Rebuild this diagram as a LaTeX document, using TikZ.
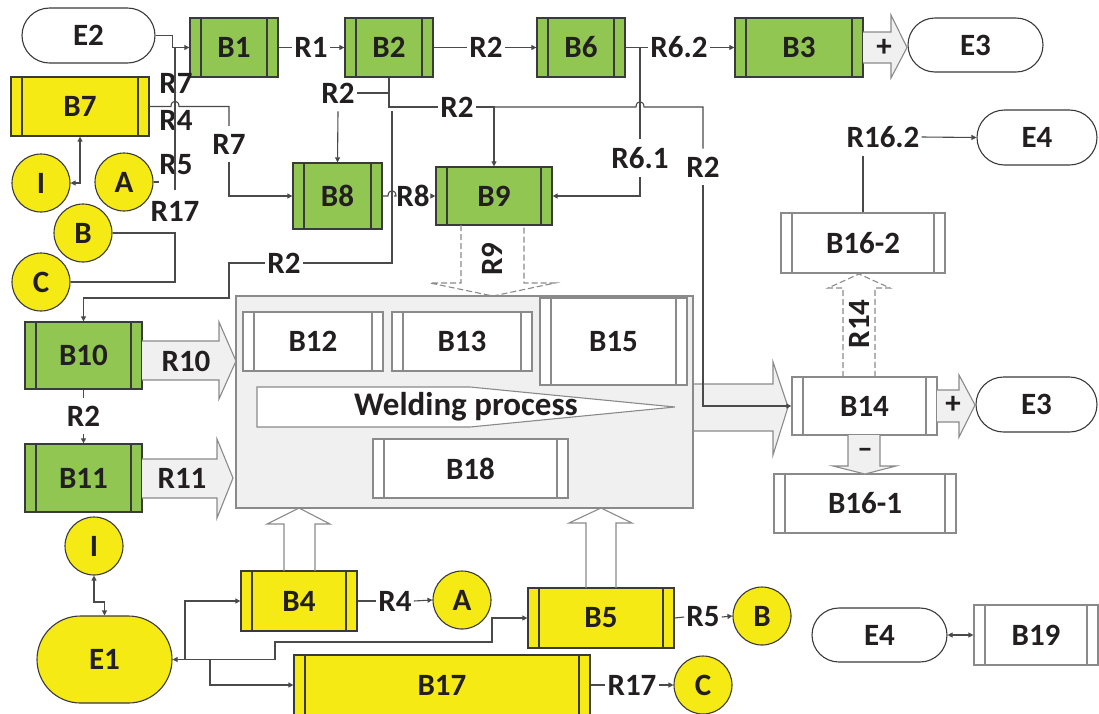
\documentclass[tikz,border=0pt]{standalone}
\usepackage{fontspec}
\usetikzlibrary{arrows.meta,shapes.misc,shapes.geometric}
\newfontfamily\cf{Carlito}
\newcommand\lbf{\cf\bfseries\fontsize{31}{31}\selectfont}
\newcommand\wbf{\cf\bfseries\fontsize{33}{33}\selectfont}
\definecolor{grn}{HTML}{92C653}
\definecolor{ylw}{HTML}{F6EA14}
\definecolor{bdr}{HTML}{3A3A3A}
\definecolor{gry}{HTML}{8A8A8A}
\definecolor{lgry}{HTML}{F0F0F0}
\definecolor{ln}{HTML}{4A4A4A}
\definecolor{txt}{HTML}{231F20}
\tikzset{
  pbox/.style={draw=#1, line width=1.3pt, inner sep=0pt, font=\lbf, text=txt,
    path picture={\draw[draw=#1, line width=1.3pt]
      ([xshift=11pt]path picture bounding box.north west) -- ([xshift=11pt]path picture bounding box.south west)
      ([xshift=-11pt]path picture bounding box.north east) -- ([xshift=-11pt]path picture bounding box.south east);}},
  gbox/.style={pbox=bdr, fill=grn},
  ybox/.style={pbox=bdr, fill=ylw},
  wbox/.style={pbox=gry, fill=white},
  sz/.style 2 args={minimum width=#1pt, minimum height=#2pt},
  pill/.style={rounded rectangle, draw=bdr, line width=1.1pt, fill=white, font=\lbf, text=txt, inner sep=0pt},
  circ/.style={circle, draw=bdr, line width=1.1pt, fill=ylw, minimum size=58pt, inner sep=0pt, font=\lbf, text=txt},
  lbl/.style={font=\lbf, text=txt, inner xsep=2pt, inner ysep=1pt},
  vlbl/.style={lbl, inner ysep=8pt},
  conn/.style={draw=ln, line width=1.1pt},
  arr/.style={conn, -{Triangle[length=5pt,width=5pt]}},
  darr/.style={conn, {Triangle[length=5pt,width=5pt]}-{Triangle[length=5pt,width=5pt]}},
  blk/.style={draw=gry, line width=1.1pt, fill=lgry, line join=miter},
  blkw/.style={draw=gry, line width=1.1pt},
  dblk/.style={draw=gry, line width=1.1pt, dash pattern=on 6pt off 3pt},
}
\begin{document}
\begin{tikzpicture}[x=1pt,y=-1pt]
\useasboundingbox (0,0) rectangle (1099,713);

% container
\node[draw=gry, line width=1.3pt, fill=lgry, sz={457}{212}] (proc) at (464.5,402) {};
\node[wbox, sz={140}{59}] (B12) at (313,341.5) {B12};
\node[wbox, sz={140}{59}] (B13) at (462,341.5) {B13};
\node[wbox, sz={147}{87}] (B15) at (613.5,341.5) {B15};
\node[wbox, sz={195}{59}] (B18) at (470.5,468.5) {B18};
\draw[draw=gry, line width=1.1pt, fill=white] (257,387) -- (470,387) -- (675,407) -- (470,427) -- (257,427) -- cycle;
\node[lbl, font=\wbf] (weld) at (466,407) {Welding process};

% green boxes
\node[gbox, sz={88}{59}] (B1) at (234,47.5) {B1};
\node[gbox, sz={88}{59}] (B2) at (389,47.5) {B2};
\node[gbox, sz={88}{59}] (B6) at (581,47.5) {B6};
\node[gbox, sz={128}{59}] (B3) at (799,47.5) {B3};
\node[gbox, sz={89}{66}] (B8) at (337.5,196) {B8};
\node[gbox, sz={116}{58}] (B9) at (494,196) {B9};
\node[gbox, sz={117}{67}] (B10) at (83.5,355.5) {B10};
\node[gbox, sz={117}{68}] (B11) at (83.5,478) {B11};
% yellow boxes
\node[ybox, sz={138}{59}] (B7) at (80,106.5) {B7};
\node[ybox, sz={116}{60}] (B4) at (299,601) {B4};
\node[ybox, sz={146}{60}] (B5) at (601,618) {B5};
\node[ybox, sz={296}{60}] (B17) at (442,685) {B17};
% white boxes
\node[wbox, sz={145}{58}] (B14) at (864.5,406) {B14};
\node[wbox, sz={182}{59}] (B161) at (865,503.5) {B16-1};
\node[wbox, sz={164}{60}] (B162) at (863,243) {B16-2};
\node[wbox, sz={124}{60}] (B19) at (1036,635) {B19};
% pills
\node[pill, sz={133}{55}] (E2) at (88.5,35.5) {E2};
\node[pill, sz={135}{54}] (E3a) at (975.5,45) {E3};
\node[pill, sz={120}{55}] (E4a) at (1037,137.5) {E4};
\node[pill, sz={121}{55}] (E3b) at (1036.5,404.5) {E3};
\node[pill, sz={135}{54}] (E4b) at (879.5,635) {E4};
\node[pill, fill=ylw, sz={135}{87}] (E1) at (104.5,659.5) {E1};
% circles
\node[circ] (I1) at (41,183) {I};
\node[circ] (A1) at (124,182) {A};
\node[circ] (Bc1) at (83,233) {B};
\node[circ] (C1) at (41,282) {C};
\node[circ] (I2) at (94,546) {I};
\node[circ] (A2) at (462,600) {A};
\node[circ] (Bc2) at (762,616) {B};
\node[circ] (C2) at (703,685) {C};

% block arrows
\draw[blk] (142,341) -- (219,341) -- (219,322) -- (236,361) -- (219,399) -- (219,380) -- (142,380);
\draw[blk] (142,459) -- (217,459) -- (217,439) -- (233,478) -- (217,518) -- (217,498) -- (142,498);
\draw[dblk] (461,225) -- (461,283) -- (430,283) -- (493,296) -- (555,283) -- (524,283) -- (524,225);
\draw[dblk] (843,377) -- (843,288) -- (828,288) -- (859,274) -- (890,288) -- (875,288) -- (875,377);
\draw[blkw] (284,571) -- (284,524) -- (267,524) -- (299,508) -- (330,524) -- (315,524) -- (315,571);
\draw[blkw] (586,588) -- (586,523) -- (569,523) -- (601,508) -- (632,523) -- (616,523) -- (616,588);
\draw[blk] (694,384) -- (773,384) -- (773,362) -- (788,407) -- (773,455) -- (773,431) -- (694,431);
\draw[blk] (863,32) -- (891,32) -- (891,15) -- (907,47.5) -- (891,78) -- (891,63) -- (863,63);
\draw[blk] (937,390) -- (959,390) -- (959,375) -- (975,405) -- (959,437) -- (959,422) -- (937,422);
\draw[blk] (848,435) -- (848,466) -- (833,466) -- (865,474) -- (896,466) -- (880,466) -- (880,435);
\node[lbl] (plus1) at (884,47.5) {+};
\node[lbl] (plus2) at (953,405) {+};
\node[lbl] (minus) at (865,453) {–};

% labels
\node[lbl] (lR1) at (311,47.5) {R1};
\node[lbl] (lR2t) at (486,47.5) {R2};
\node[lbl] (lR62) at (679,47.5) {R6.2};
\node[lbl] (lR7a) at (176,83) {R7};
\node[lbl] (lR4a) at (176,120) {R4};
\node[lbl] (lR5a) at (176,165) {R5};
\node[lbl] (lR17a) at (175,211) {R17};
\node[vlbl] (lR7b) at (229,144) {R7};
\node[vlbl] (lR2b) at (338,93) {R2};
\node[lbl] (lR2c) at (457,107) {R2};
\node[vlbl] (lR61) at (640,158) {R6.1};
\node[vlbl] (lR2d) at (703,167) {R2};
\node[lbl] (lR8) at (413,196) {R8};
\node[lbl, rotate=90] (lR9) at (492,259) {R9};
\node[lbl] (lR2a) at (284,263) {R2};
\node[lbl] (lR10) at (186,361) {R10};
\node[lbl] (lR11) at (182,478) {R11};
\node[vlbl] (lR2e) at (83.5,416) {R2};
\node[vlbl] (lR162) at (883,137) {R16.2};
\node[lbl, rotate=90] (lR14) at (859,324) {R14};
\node[lbl] (lR4b) at (395,601) {R4};
\node[lbl] (lR5b) at (703,617) {R5};
\node[lbl] (lR17b) at (632,685) {R17};

% connectors top
\draw[arr] (E2.east) -- ++(17,0) |- (B1.west);
\coordinate (bt) at (175,47.5);
\coordinate (bb) at (175,190);
\draw[conn] (bt) -- (bb);
\draw[conn] (A1.east) -- ++(5,0);
\draw[conn] (B7.east) -- (171,106.5) .. controls +(0,-7) and +(0,-7) .. (179,106.5) -- (lR7b.north |- B7.east) -- (lR7b.north);
\draw[arr] (lR7b.south) |- (B8.west);
\draw[darr] (B7.south) |- (I1.east);
\draw[conn] (Bc1.east) -- (175,233) |- (C1.east);
\draw[conn] (B1.east) -- (lR1.west);
\draw[arr] (lR1.east) -- (B2.west);
\draw[conn] (B2.east) -- (lR2t.west);
\draw[arr] (lR2t.east) -- (B6.west);
\draw[conn] (B6.east) -- (lR62.west);
\draw[arr] (lR62.east) -- (B3.west);
\draw[conn] (lR61.north |- B6.east) -- (lR61.north);
\draw[arr] (lR61.south) |- (B9.east);
\draw[conn] (B2.south) -- (389,107) -- (lR2c.west);
\draw[arr] (lR2c.east) -| (B9.north);
\draw[conn] (B9.north |- lR2c.east) -- (636,107) .. controls +(0,-7) and +(0,-7) .. (644,107) -- (703,107) -- (lR2d.north);
\draw[arr] (lR2d.south) |- (B14.west);
\draw[conn] (B2.south |- lR2b.east) -- (lR2b.east);
\draw[arr] (lR2b.south) -- (B8.north);
\coordinate (r2s) at (392,111);
\draw[conn] (r2s) -- (392,263) -- (lR2a.east);
\draw[arr] (lR2a.west) -- (229,263) -- (229,298) -| (B10.north);
\draw[conn] (B8.east) -- (388,196) .. controls +(0,-7) and +(0,-7) .. (396,196) -- (lR8.west);
\draw[arr] (lR8.east) -- (B9.west);
\draw[conn] (B162.north) -- (B162.north |- lR162.south);
\draw[arr] (lR162.east) -- (E4a.west);
\draw[conn] (B10.south) -- (lR2e.north);
\draw[arr] (lR2e.south) -- (B11.north);
% bottom
\draw[darr] (I2.south) -- (94,602) -- (104.5,602) -- (E1.north);
\draw[darr] (E1.east) -- (275,659.5) -- (275,642) -- (492,642) |- (B5.west);
\coordinate (j1) at (185,659.5);
\coordinate (j2) at (210,659.5);
\draw[arr] (j1) |- (B4.west);
\draw[arr] (j2) |- (B17.west);
\draw[conn] (B4.east) -- (lR4b.west);
\draw[arr] (lR4b.east) -- (A2.west);
\draw[conn] (B5.east) -- (lR5b.west);
\draw[arr] (lR5b.east) -- (Bc2.west);
\draw[conn] (B17.east) -- (lR17b.west);
\draw[arr] (lR17b.east) -- (C2.west);
\draw[darr] (E4b.east) -- (B19.west);
\end{tikzpicture}
\end{document}
